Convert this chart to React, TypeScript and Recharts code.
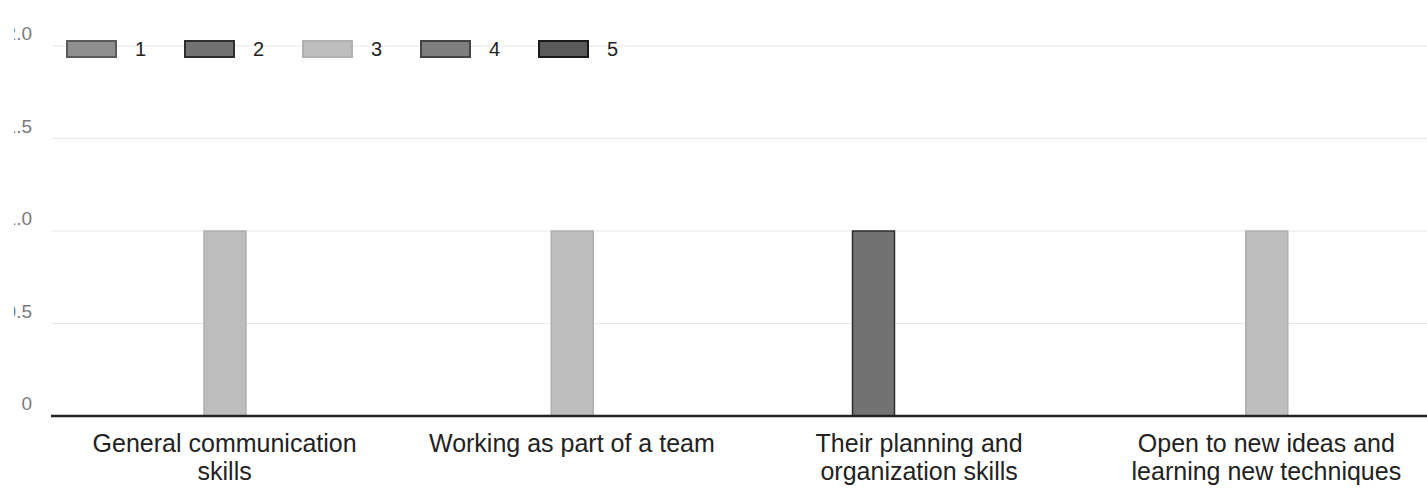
import { Bar, BarChart, CartesianGrid, Legend, XAxis, YAxis } from "recharts";

const categories = [
  "General communication skills",
  "Working as part of a team",
  "Their planning and organization skills",
  "Open to new ideas and learning new techniques",
];

// responses per rating, one value per category
const rating1 = [0, 0, 0, 0];
const rating2 = [0, 0, 1, 0];
const rating3 = [1, 1, 0, 1];
const rating4 = [0, 0, 0, 0];
const rating5 = [0, 0, 0, 0];

const yTicks = [0, 0.5, 1, 1.5, 2];

const series = [
  { key: "1", values: rating1, fill: "#8e8e8e", stroke: "#5a5a5a" },
  { key: "2", values: rating2, fill: "#727272", stroke: "#2e2e2e" },
  { key: "3", values: rating3, fill: "#bdbdbd", stroke: "#b0b0b0" },
  { key: "4", values: rating4, fill: "#7e7e7e", stroke: "#444444" },
  { key: "5", values: rating5, fill: "#5a5a5a", stroke: "#1a1a1a" },
];

const rows = categories.map((name, i) => {
  const row: Record<string, string | number> = { name };
  series.forEach((s) => {
    row[s.key] = s.values[i];
  });
  return row;
});

const FONT = "'Liberation Sans', Arial, sans-serif";
const TICK_FONT_SIZE = 25;

let measureCtx: CanvasRenderingContext2D | null = null;
function textWidth(s: string) {
  if (!measureCtx) measureCtx = document.createElement("canvas").getContext("2d");
  if (!measureCtx) return s.length * TICK_FONT_SIZE * 0.5;
  measureCtx.font = `${TICK_FONT_SIZE}px ${FONT}`;
  return measureCtx.measureText(s).width;
}

function wrapWords(label: string, maxWidth: number) {
  const lines: string[] = [];
  let line = "";
  for (const word of label.split(" ")) {
    const next = line ? `${line} ${word}` : word;
    if (line && textWidth(next) > maxWidth) {
      lines.push(line);
      line = word;
    } else {
      line = next;
    }
  }
  if (line) lines.push(line);
  return lines;
}

function CategoryTick({ x, y, payload }: any) {
  const lines = wrapWords(String(payload.value), 300);
  return (
    <text
      x={x}
      y={y}
      textAnchor="middle"
      fontSize={TICK_FONT_SIZE}
      fill="#222"
      fontFamily={FONT}
    >
      {lines.map((l, i) => (
        <tspan key={i} x={x} dy={i === 0 ? 18 : 28}>
          {l}
        </tspan>
      ))}
    </text>
  );
}

function ValueTick({ x, y, payload, index }: any) {
  const v = payload.value as number;
  const label = v === 0 ? "0" : v.toFixed(1);
  const id = `ytick-clip-${index}`;
  // the photo is cropped on the left, so the first digit falls outside
  return (
    <g>
      <defs>
        <clipPath id={id}>
          <rect x={14} y={y - 30} width={80} height={60} />
        </clipPath>
      </defs>
      <text
        x={x}
        y={y}
        dy={-6}
        textAnchor="end"
        fontSize={19}
        fill="#7a7a7a"
        fontFamily={FONT}
        clipPath={`url(#${id})`}
      >
        {label}
      </text>
    </g>
  );
}

function RatingLegend() {
  return (
    <div style={{ display: "flex", fontFamily: FONT }}>
      {series.map((s) => (
        <div
          key={s.key}
          style={{ display: "flex", alignItems: "center", width: 118, height: 24 }}
        >
          <span
            style={{
              display: "inline-block",
              width: 47,
              height: 14,
              background: s.fill,
              border: `2px solid ${s.stroke}`,
              marginRight: 18,
            }}
          />
          <span style={{ fontSize: 20, color: "#222" }}>{s.key}</span>
        </div>
      ))}
    </div>
  );
}

export default function App() {
  return (
    <div
      style={{
        position: "absolute",
        left: 0,
        top: 0,
        width: 1427,
        height: 501,
        overflow: "hidden",
        background: "#fff",
      }}
    >
      <BarChart
        width={1450}
        height={501}
        data={rows}
        barGap={4}
        margin={{ top: 46, right: 10, left: 0, bottom: 5 }}
      >
        <CartesianGrid vertical={false} stroke="#ede6e6" />
        <XAxis
          dataKey="name"
          interval={0}
          height={80}
          tickSize={0}
          tickMargin={18}
          tickLine={false}
          axisLine={{ stroke: "#222", strokeWidth: 2.5 }}
          tick={<CategoryTick />}
        />
        <YAxis
          width={51}
          domain={[0, 2]}
          ticks={yTicks}
          tickSize={0}
          tickMargin={19}
          tickLine={false}
          axisLine={false}
          tick={<ValueTick />}
        />
        <Legend
          layout="horizontal"
          verticalAlign="middle"
          align="center"
          wrapperStyle={{ top: 37, left: 66, width: "auto" }}
          content={() => <RatingLegend />}
        />
        {series.map((s) => (
          <Bar
            key={s.key}
            dataKey={s.key}
            fill={s.fill}
            stroke={s.stroke}
            strokeWidth={1.5}
            barSize={42}
            isAnimationActive={false}
          />
        ))}
      </BarChart>
    </div>
  );
}
